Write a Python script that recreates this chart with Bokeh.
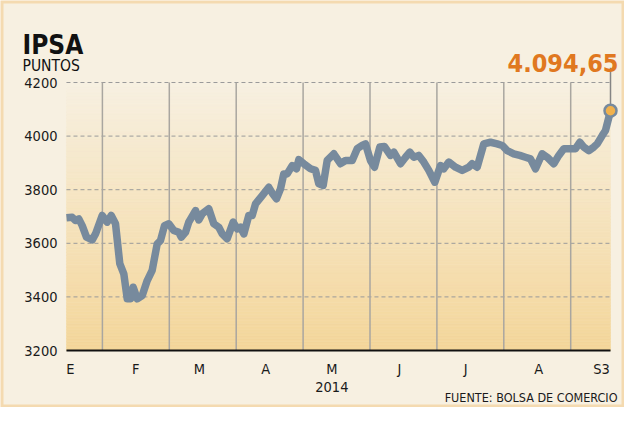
import numpy as np
from bokeh.plotting import figure
from bokeh.models import Label, Range1d, BoxAnnotation
from bokeh.embed import file_html
from bokeh.resources import INLINE

# ---- data (x in months since 1 Jan 2014) ----
dates_m = [0.463, 0.549, 0.598, 0.647, 0.698, 0.762, 0.848, 0.897, 0.997, 1.072,
           1.132, 1.196, 1.260, 1.320, 1.371, 1.420, 1.460, 1.520, 1.595, 1.670,
           1.744, 1.819, 1.868, 1.928, 1.993, 2.067, 2.142, 2.178, 2.242, 2.291,
           2.392, 2.441,
           2.492, 2.590, 2.665, 2.740, 2.791, 2.865, 2.955, 3.015, 3.064, 3.114,
           3.188, 3.239, 3.289, 3.389, 3.487, 3.539, 3.602, 3.662, 3.711, 3.762,
           3.837, 3.901, 3.936, 4.010, 4.111, 4.185, 4.235, 4.300, 4.360,
           4.459, 4.559, 4.634, 4.734, 4.809, 4.883, 4.933, 5.007, 5.067, 5.146,
           5.217, 5.306, 5.356, 5.456, 5.531, 5.595, 5.655, 5.729, 5.804, 5.879,
           5.969, 6.054, 6.103, 6.178, 6.278, 6.378, 6.477,
           6.528, 6.602, 6.701, 6.801, 6.901, 6.976, 7.051, 7.149, 7.239, 7.324,
           7.399, 7.474, 7.574, 7.649, 7.747, 7.822, 7.897, 7.997, 8.072, 8.136,
           8.196, 8.271, 8.345, 8.396, 8.471, 8.520, 8.595]
ipsa = [3695, 3697, 3685, 3691, 3666, 3623, 3613, 3635, 3704, 3679,
        3704, 3673, 3524, 3486, 3393, 3393, 3436, 3393, 3405, 3461,
        3499, 3598, 3610, 3666, 3673, 3648, 3641, 3623, 3641, 3679,
        3722, 3687,
        3710, 3729, 3673, 3660, 3635, 3617, 3679, 3654, 3660, 3635,
        3704, 3704, 3747, 3778, 3809, 3787, 3766, 3803, 3859, 3859,
        3890, 3878, 3912, 3897, 3878, 3872, 3822, 3816, 3909,
        3934, 3897, 3909, 3909, 3953, 3965, 3971, 3909, 3884, 3959,
        3961, 3928, 3940, 3897, 3921, 3940, 3921, 3928, 3903, 3872,
        3828, 3890, 3878, 3903, 3884, 3872, 3884,
        3897, 3884, 3971, 3977, 3971, 3965, 3946, 3934, 3928, 3921,
        3915, 3878, 3934, 3921, 3897, 3928, 3953, 3953, 3953, 3977,
        3959, 3946, 3959, 3971, 4002, 4021, 4094.65]

y_ticks = [3200, 3400, 3600, 3800, 4000, 4200]
month_ticks = [0.52, 1.5, 2.45, 3.44, 4.43, 5.44, 6.43, 7.52, 8.46]
month_labels = ["E", "F", "M", "A", "M", "J", "J", "A", "S3"]
month_bounds = [1, 2, 3, 4, 5, 6, 7, 8]
year_label = "2014"
title_text = "IPSA"
unit_text = "PUNTOS"
source_text = "FUENTE: BOLSA DE COMERCIO"

# ---- style ----
BG = "#F7F0E1"
GRAD_BOTTOM = (0xF4, 0xD6, 0x9A)
LINE = "#778A9D"
ORANGE = "#E07820"
INK = "#1a1a1a"
FONT = "DejaVu Sans Condensed"
W, H = 624, 407
PXM = 66.9      # px per month
X0PX = 35       # px of 1 Jan
PXU = 0.268     # px per index point
BASEPX = 350    # px of y=3200

y_lo, y_hi = y_ticks[0], y_ticks[-1]
x_first, x_last = dates_m[0], dates_m[-1]
v_last = ipsa[-1]

p = figure(width=W, height=H, output_backend="svg", toolbar_location=None,
           x_range=Range1d(-X0PX / PXM, (W - X0PX) / PXM),
           y_range=Range1d(y_lo - (H - BASEPX) / PXU, y_lo + BASEPX / PXU),
           min_border=0, background_fill_color=BG, border_fill_color=BG,
           outline_line_color=None)
p.axis.visible = False
p.grid.visible = False

# gradient background of plot area
n = 90
edges = np.linspace(y_lo, y_hi, n + 1)
mids = (edges[:-1] + edges[1:]) / 2
f = (y_hi - mids) / (y_hi - y_lo)
top_rgb = np.array([0xF7, 0xF0, 0xE1])
bot_rgb = np.array(GRAD_BOTTOM)
cols = ["#%02x%02x%02x" % tuple(np.round(top_rgb + (bot_rgb - top_rgb) * fi).astype(int)) for fi in f]
p.quad(left=x_first, right=x_last, bottom=edges[:-1], top=edges[1:],
       fill_color=cols, line_color=cols, line_width=0.6)

# grid lines
hy = y_ticks[1:]
p.segment(x0=[x_first] * len(hy), x1=[x_last] * len(hy), y0=hy, y1=hy,
          line_color="#9A9A9A", line_width=1, line_dash="4 3")
p.segment(x0=month_bounds, x1=month_bounds, y0=[y_lo] * len(month_bounds),
          y1=[y_hi] * len(month_bounds), line_color="#A9A6A0", line_width=1.5)
# base line
p.segment(x0=[x_first], x1=[x_last], y0=[y_lo], y1=[y_lo], line_color="#111111", line_width=2)

# data
p.line(dates_m, ipsa, line_color=LINE, line_width=7.5, line_join="round", line_cap="butt")
p.segment(x0=[x_last], x1=[x_last], y0=[v_last], y1=[v_last + 160],
          line_color="#858585", line_width=1.5)
p.scatter([x_last], [v_last], size=12, fill_color="#F1B14C", line_color=LINE, line_width=2.5)

# tick labels
for t in y_ticks:
    p.add_layout(Label(x=x_first, y=t, x_offset=-9, text=str(t), text_align="right",
                       text_baseline="middle", text_font=FONT, text_font_size="14.5px",
                       text_color=INK))
for t, lab in zip(month_ticks, month_labels):
    p.add_layout(Label(x=t, y=y_lo, y_offset=-18, text=lab, text_align="center",
                       text_baseline="alphabetic", text_font=FONT, text_font_size="14.5px",
                       text_color=INK))
p.add_layout(Label(x=month_ticks[4], y=y_lo, y_offset=-36, text=year_label,
                   text_align="center", text_baseline="alphabetic", text_font=FONT,
                   text_font_size="14.5px", text_color=INK))

# texts
val_txt = f"{v_last:,.2f}".replace(",", "X").replace(".", ",").replace("X", ".")
p.add_layout(Label(x=x_last, y=v_last, x_offset=8, y_offset=48, text=val_txt,
                   text_align="right", text_baseline="alphabetic", text_font=FONT,
                   text_font_size="25px", text_font_style="bold", text_color=ORANGE))
p.add_layout(Label(x=x_first, y=y_hi, x_offset=-44, y_offset=38, text=title_text,
                   text_align="left", text_baseline="alphabetic", text_font=FONT,
                   text_font_size="26px", text_font_style="bold", text_color="#111111"))
p.add_layout(Label(x=x_first, y=y_hi, x_offset=-44, y_offset=17, text=unit_text,
                   text_align="left", text_baseline="alphabetic", text_font=FONT,
                   text_font_size="15.5px", text_color="#111111"))
p.add_layout(Label(x=x_last, y=y_lo, x_offset=7, y_offset=-47, text=source_text,
                   text_align="right", text_baseline="alphabetic", text_font=FONT,
                   text_font_size="12.5px", text_color=INK))

# outer frame border
p.add_layout(BoxAnnotation(fill_alpha=0, line_color="#EFA940", line_width=6))

open("out.html", "w").write(file_html(p, INLINE))
